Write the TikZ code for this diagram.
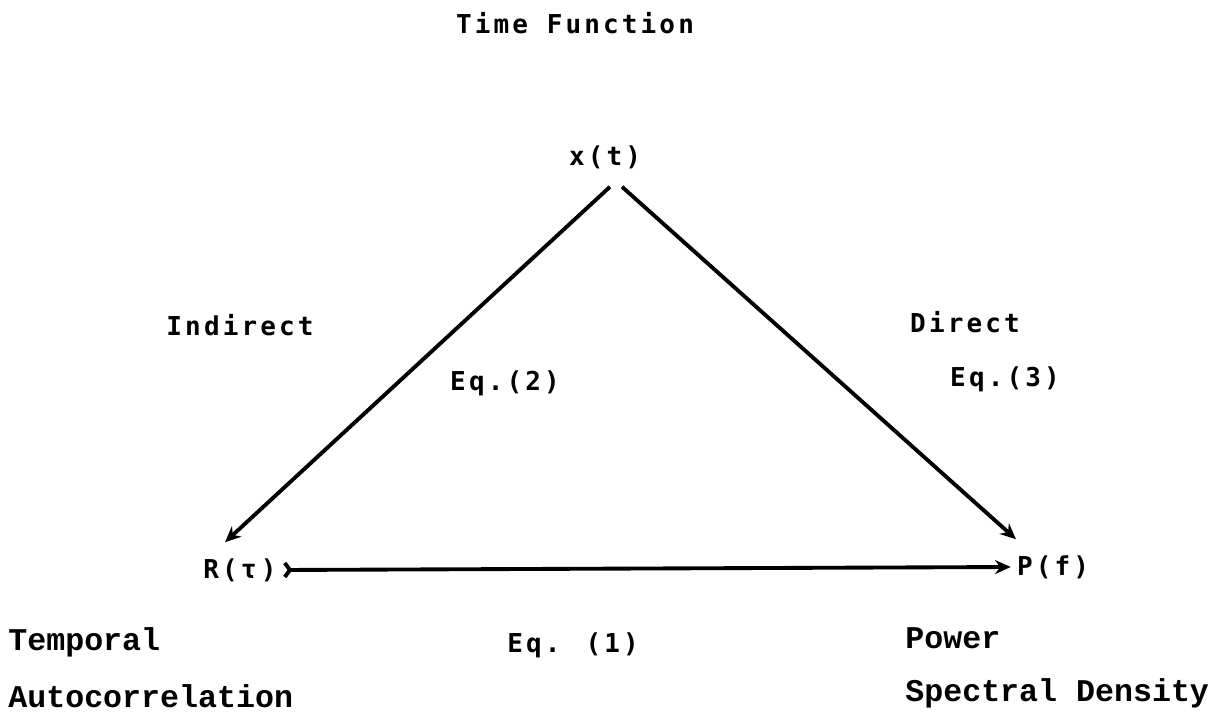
\documentclass[tikz,border=0pt]{standalone}
\usepackage{fontspec}
\usepackage{tikz}
\usetikzlibrary{arrows.meta}
\newfontfamily\dotfont{DejaVu Sans Mono}[LetterSpace=12]
\newfontfamily\typefont{Liberation Mono}

\begin{document}
\begin{tikzpicture}[x=0.02cm, y=-0.02cm,
    lab/.style={font=\dotfont\bfseries\fontsize{14.8}{17}\selectfont},
    note/.style={font=\typefont\bfseries\fontsize{18}{21}\selectfont, anchor=west, inner sep=0pt},
    conn/.style={line width=2.2pt, -{Stealth[length=9pt, width=8pt]}}]
  \useasboundingbox (0,0) rectangle (1223,715);
  \node[lab] (title) at (575,23) {Time Function};
  \node[lab] (xt) at (605,157) {x(t)};
  \node[lab] (indirect) at (240,325) {Indirect};
  \node[lab] (eqtwo) at (505,383) {Eq.(2)};
  \node[lab] (direct) at (965,322) {Direct};
  \node[lab] (eqthree) at (1005,379) {Eq.(3)};
  \node[lab] (Rtau) at (240,570) {R(τ\,)};
  \node[lab] (Pf) at (1053,567) {P(f)};
  \node[lab] (eqone) at (573,645) {Eq. (1)};
  \node[note] (temporal) at (8,642) {Temporal};
  \node[note] (autocorr) at (8,696) {Autocorrelation};
  \node[note] (power) at (905,638) {Power};
  \node[note] (spectral) at (905,693) {Spectral Density};
  % the three transforms
  \draw[conn] ([shift={(5,12)}]xt.south) -- ([shift={(-15,-10)}]Rtau.north);
  \draw[conn] ([shift={(17,12)}]xt.south) -- ([shift={(-37,-10)}]Pf.north);
  \draw[conn, {Straight Barb[reversed, length=3pt, width=8pt]}-{Stealth[length=9pt, width=8pt]}]
    (Rtau.east) -- (Pf.west);
\end{tikzpicture}
\end{document}
